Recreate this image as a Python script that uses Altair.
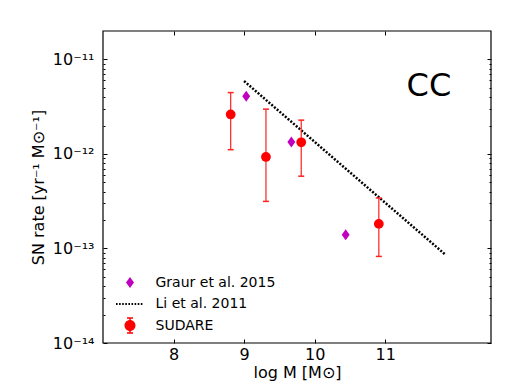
import altair as alt
import pandas as pd

# ---- data ----
sud_logm = [8.81, 9.31, 9.81, 10.91]
sud_rate = [2.62e-12, 9.3e-13, 1.33e-12, 1.82e-13]
sud_hi = [4.46e-12, 2.98e-12, 2.28e-12, 3.42e-13]
sud_lo = [1.11e-12, 3.15e-13, 5.82e-13, 8.24e-14]

gr_logm = [9.03, 9.67, 10.44]
gr_rate = [4.08e-12, 1.34e-12, 1.40e-13]

li_logm = [9.0, 11.85]
li_rate = [5.91e-12, 8.65e-14]

series_names = ["Graur et al. 2015", "Li et al. 2011", "SUDARE"]
series_colors = ["#bf00bf", "#000000", "#ff0000"]

x_range = [7, 12.5]
y_range = [1e-14, 2e-11]
x_ticks = [8, 9, 10, 11]
y_ticks = [1e-14, 1e-13, 1e-12, 1e-11]
y_tick_labels = ["10⁻¹⁴", "10⁻¹³", "10⁻¹²", "10⁻¹¹"]
y_minor = [d * 10.0 ** e for e in (-14, -13, -12) for d in range(2, 10)]

cc_x = [11.62]
cc_y = [5.2e-12]
cc_text = ["CC"]

# ---- tables ----
sud = pd.DataFrame({"logm": sud_logm, "rate": sud_rate, "hi": sud_hi, "lo": sud_lo})
gr = pd.DataFrame({"logm": gr_logm, "rate": gr_rate})
li = pd.DataFrame({"logm": li_logm, "rate": li_rate})
cc = pd.DataFrame({"logm": cc_x, "rate": cc_y, "t": cc_text})
leg = pd.DataFrame({"series": series_names})
frame = pd.DataFrame({"x0": [x_range[0]], "x1": [x_range[1]],
                      "y0": [y_range[0]], "y1": [y_range[1]]})

FONT = "DejaVu Sans"
xs = alt.Scale(domain=x_range, nice=False, zero=False)
ys = alt.Scale(type="log", domain=y_range, nice=False)

label_expr = ""
for v, lab in zip(y_ticks, y_tick_labels):
    label_expr += f"datum.value < {v * 3} ? '{lab}' : "
label_expr += "''"

common = dict(domain=False, grid=False, tickColor="black", tickWidth=1, tickOpacity=1)

bottom_axis = alt.Axis(orient="bottom", values=x_ticks, format="d", offset=-4, tickSize=4,
                       labelFontSize=16, labelPadding=3, labelColor="black", labelFont=FONT,
                       title="log M [M⊙]", titleFontSize=16, titleFontWeight="normal",
                       titleFont=FONT, titleColor="black", titlePadding=2, **common)
top_axis = alt.Axis(orient="top", values=x_ticks, offset=-4, tickSize=4, labels=False,
                    title=None, **common)
left_axis = alt.Axis(orient="left", values=y_ticks, labelExpr=label_expr, offset=-4, tickSize=4,
                     labelFontSize=16, labelPadding=9, labelColor="black", labelFont=FONT,
                     title="SN rate [yr⁻¹ M⊙⁻¹]", titleFontSize=16, titleFontWeight="normal",
                     titleFont=FONT, titleColor="black", titlePadding=6, **common)
right_axis = alt.Axis(orient="right", values=y_ticks, offset=-4, tickSize=4, labels=False,
                      title=None, **common)
left_minor = alt.Axis(orient="left", values=y_minor, offset=-2, tickSize=2, labels=False,
                      title=None, **common)
right_minor = alt.Axis(orient="right", values=y_minor, offset=-2, tickSize=2, labels=False,
                       title=None, **common)

frame_layer = alt.Chart(frame).mark_rect(fill=None, stroke="black", strokeWidth=1.2,
                                          clip=False).encode(
    x=alt.X("x0:Q", scale=xs, axis=None), x2="x1:Q",
    y=alt.Y("y0:Q", scale=ys, axis=None), y2="y1:Q",
)

line = alt.Chart(li).mark_line(color="black", strokeDash=[2, 1.6], strokeWidth=2.5).encode(
    x=alt.X("logm:Q", scale=xs, axis=bottom_axis),
    y=alt.Y("rate:Q", scale=ys, axis=left_axis),
)

bars = alt.Chart(sud).mark_rule(color="#ff2020", strokeWidth=1.2).encode(
    x=alt.X("logm:Q", scale=xs, axis=top_axis),
    y=alt.Y("lo:Q", scale=ys, axis=right_axis),
    y2="hi:Q",
)

cap_hi = alt.Chart(sud).mark_point(shape="M-1,0H1", filled=False, color="#ff2020", size=36,
                                   strokeWidth=1.5, opacity=1).encode(
    x=alt.X("logm:Q", scale=xs, axis=None),
    y=alt.Y("hi:Q", scale=ys, axis=left_minor),
)
cap_lo = alt.Chart(sud).mark_point(shape="M-1,0H1", filled=False, color="#ff2020", size=36,
                                   strokeWidth=1.5, opacity=1).encode(
    x=alt.X("logm:Q", scale=xs, axis=None),
    y=alt.Y("lo:Q", scale=ys, axis=right_minor),
)

circles = alt.Chart(sud).mark_point(shape="circle", filled=True, color="#ff0000", size=95,
                                    opacity=1, strokeWidth=0).encode(
    x=alt.X("logm:Q", scale=xs, axis=None),
    y=alt.Y("rate:Q", scale=ys, axis=None),
)

diamonds = alt.Chart(gr).mark_point(shape="M0,-1L0.72,0L0,1L-0.72,0Z", filled=True,
                                    color="#bf00bf", size=121, opacity=1, strokeWidth=0).encode(
    x=alt.X("logm:Q", scale=xs, axis=None),
    y=alt.Y("rate:Q", scale=ys, axis=None),
)

cc_text_layer = alt.Chart(cc).mark_text(fontSize=32, font=FONT, color="black",
                                        align="center", baseline="middle").encode(
    x=alt.X("logm:Q", scale=xs, axis=None),
    y=alt.Y("rate:Q", scale=ys, axis=None),
    text="t:N",
)

# legend glyphs (unit = sqrt(size)/2 px)
u = 10.5
dots = ""
n = 9
start = -14.0
for i in range(n):
    x0 = (start + i * 3.1) / u
    x1 = x0 + 1.6 / u
    dots += f"M{x0:.3f},-0.1H{x1:.3f}V0.1H{x0:.3f}Z"
r = 5.5 / u
bh = 7.5 / u
bw = 0.7 / u
cw = 3.0 / u
ct = 0.7 / u
sud_path = (f"M{r:.3f},0A{r:.3f},{r:.3f} 0 1,1 {-r:.3f},0A{r:.3f},{r:.3f} 0 1,1 {r:.3f},0Z"
            f"M{-bw:.3f},{-bh:.3f}H{bw:.3f}V{bh:.3f}H{-bw:.3f}Z"
            f"M{-cw:.3f},{-bh - ct:.3f}H{cw:.3f}V{-bh + ct:.3f}H{-cw:.3f}Z"
            f"M{-cw:.3f},{bh - ct:.3f}H{cw:.3f}V{bh + ct:.3f}H{-cw:.3f}Z")
dia_path = f"M0,{-5.5/u:.3f}L{4/u:.3f},0L0,{5.5/u:.3f}L{-4/u:.3f},0Z"
legend_shapes = [dia_path, dots, sud_path]

leg_props = dict(orient="none", legendX=16.5, legendY=241, title=None, labelFontSize=14,
                 labelFont=FONT, labelColor="black", symbolSize=u * u * 4,
                 symbolStrokeWidth=0, labelOffset=15, rowPadding=3.5, padding=0)

legend_layer = alt.Chart(leg).mark_point(filled=True, opacity=1, strokeWidth=0).encode(
    x=alt.value(0), y=alt.value(0),
    color=alt.Color("series:N", scale=alt.Scale(domain=series_names, range=series_colors),
                    legend=alt.Legend(**leg_props)),
    shape=alt.Shape("series:N", scale=alt.Scale(domain=series_names, range=legend_shapes),
                    legend=alt.Legend(**leg_props)),
).transform_filter("false")

chart = alt.layer(
    frame_layer, line, bars, cap_hi, cap_lo, circles, diamonds, cc_text_layer, legend_layer
).resolve_axis(x="independent", y="independent").properties(
    width=388, height=312,
    autosize=alt.AutoSizeParams(type="none"),
    padding={"left": 95, "top": 23, "right": 19, "bottom": 39},
).configure(background="white").configure_view(strokeWidth=0)

chart.save("out.html", embed_options={"renderer": "svg", "actions": False})
